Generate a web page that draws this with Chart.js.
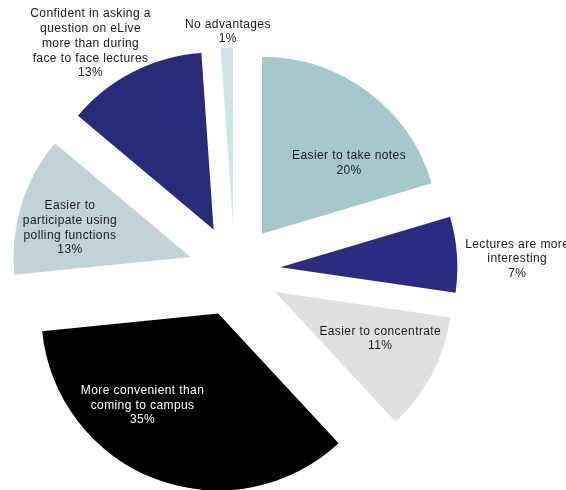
<!DOCTYPE html>
<html>
<head>
<meta charset="utf-8">
<script src="https://cdn.jsdelivr.net/npm/chart.js@4.4.0/dist/chart.umd.min.js"></script>
<style>
  html, body { margin: 0; padding: 0; background: #ffffff; }
  #pie { display: block; }
</style>
</head>
<body>
<canvas id="pie" width="566" height="490"></canvas>
<script>
// Slice categories (wrapped the way they appear on the chart)
const categories = [
    ["Easier to take notes"],
    ["Lectures are more", "interesting"],
    ["Easier to concentrate"],
    ["More convenient than", "coming to campus"],
    ["Easier to", "participate using", "polling functions"],
    ["Confident in asking a", "question on eLive", "more than during", "face to face lectures"],
    ["No advantages"]
];
// percent (labels show them rounded)
const shares = [20.4, 6.9, 10.8, 35.3, 12.7, 12.8, 1.1];

const sliceColors = ["#A6C8CA", "#2C2B82", "#E0E0E0", "#000000", "#C1D3D6", "#2A2A7A", "#CDE6EA"];
const labelColors = ["#1a1a1a", "#1a1a1a", "#1a1a1a", "#ffffff", "#1a1a1a", "#1a1a1a", "#1a1a1a"];

// where each label sits, measured from the tip of its (exploded) slice:
// bearing in degrees clockwise from 12 o'clock, distance in px
const labelBearing = [51, 88, 114, 219.5, 283.5, 326.5, 358.5];
const labelDist = [112, 237, 115, 119, 124, 223, 193];

const EXPLODE = 46; // px every slice is pulled out from the centre
const FONT = "12px 'Liberation Sans', Arial, sans-serif";
const LINE_H = 14.7;

// chart.js' own `offset` narrows thin slices (the 1% one vanishes), so pull
// the slices out here instead: move each arc's centre along its bisector
const explodeSlices = {
    id: "explodeSlices",
    beforeDatasetsDraw(chart) {
        chart.getDatasetMeta(0).data.forEach((arc) => {
            if (arc._moved) return;
            const mid = (arc.startAngle + arc.endAngle) / 2;
            arc.x += Math.cos(mid) * EXPLODE;
            arc.y += Math.sin(mid) * EXPLODE;
            arc._moved = true;
        });
    }
};

const sliceLabels = {
    id: "sliceLabels",
    afterDatasetsDraw(chart) {
        const ctx = chart.ctx;
        const total = shares.reduce((a, b) => a + b, 0);
        ctx.save();
        ctx.font = FONT;
        if ("letterSpacing" in ctx) ctx.letterSpacing = "0.4px";
        ctx.textAlign = "center";
        ctx.textBaseline = "middle";
        chart.getDatasetMeta(0).data.forEach((arc, i) => {
            const a = (labelBearing[i] - 90) * Math.PI / 180;
            const cx = arc.x + Math.cos(a) * labelDist[i];
            const cy = arc.y + Math.sin(a) * labelDist[i];
            const lines = categories[i].concat([Math.round(shares[i] / total * 100) + "%"]);
            const top = cy - (lines.length - 1) * LINE_H / 2;
            ctx.fillStyle = labelColors[i];
            lines.forEach((line, k) => ctx.fillText(line, cx, top + k * LINE_H));
        });
        ctx.restore();
    }
};

new Chart(document.getElementById("pie"), {
    type: "pie",
    data: {
        labels: categories.map(c => c.join(" ")),
        datasets: [{
            data: shares,
            backgroundColor: sliceColors,
            borderWidth: 0,
            clip: false
        }]
    },
    options: {
        responsive: false,
        devicePixelRatio: 1,
        animation: false,
        radius: 177,
        rotation: 0,
        layout: { padding: { left: 0, right: 97, top: 51, bottom: 0 } },
        plugins: {
            legend: { display: false },
            tooltip: { enabled: false }
        },
        events: []
    },
    plugins: [explodeSlices, sliceLabels]
});
</script>
</body>
</html>
